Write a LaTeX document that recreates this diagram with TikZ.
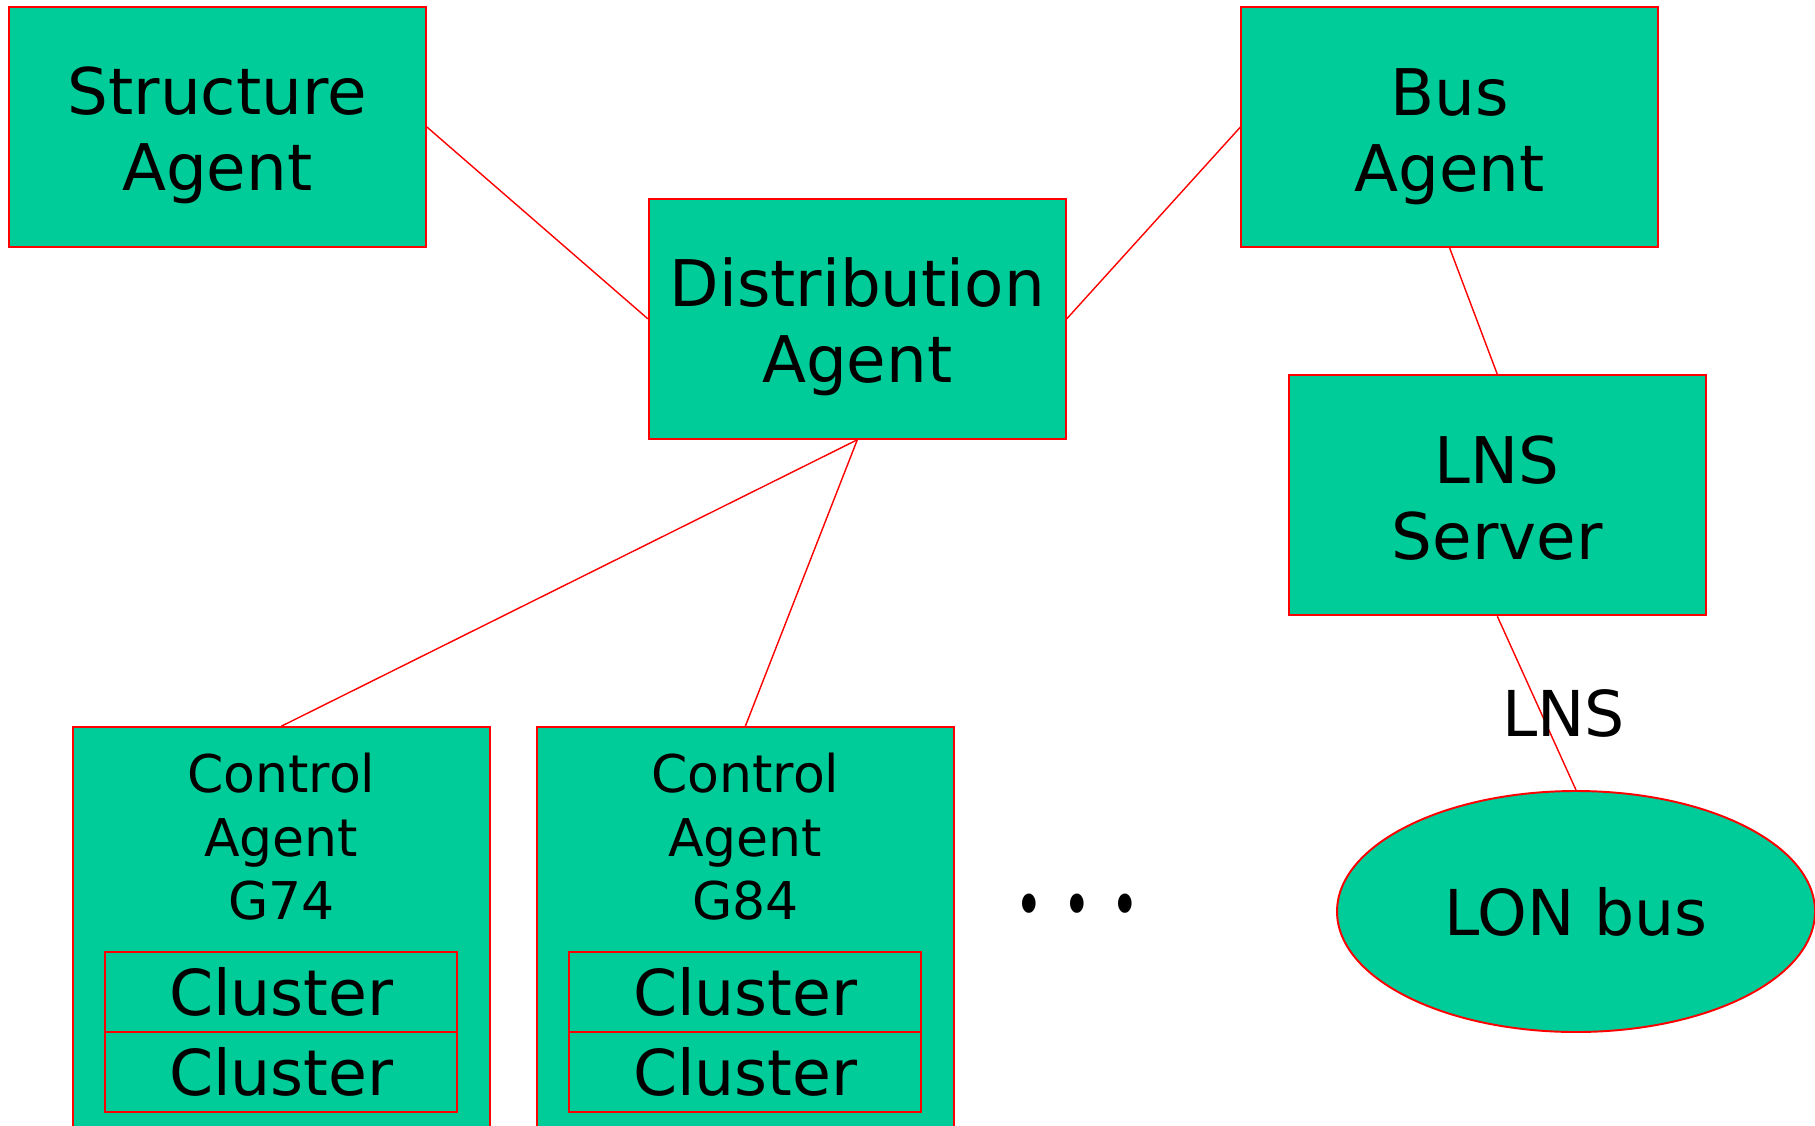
\documentclass[tikz,border=0pt]{standalone}
\usepackage{fontspec}
\setmainfont{DejaVu Sans}
\usepackage{xcolor}
\usepackage{graphicx}
\definecolor{agentgreen}{HTML}{00CC99}
\definecolor{linkred}{HTML}{FF0000}
\usetikzlibrary{shapes.geometric,positioning,fit,backgrounds}
% two centred lines with fixed strut height/depth
\newcommand{\twoline}[2]{\rule{0pt}{7.2mm}#1\\#2\rule[-2mm]{0pt}{2mm}}

\begin{document}
\begin{tikzpicture}[
  x=0.1mm, y=-0.1mm,
  agent/.style={rectangle,draw=linkred,fill=agentgreen,line width=0.55pt,
                minimum width=41.7mm,minimum height=24mm,inner sep=0pt,
                align=center,font=\fontsize{18.3}{21.6}\selectfont},
  ctrltext/.style={inner sep=0pt,align=center,
                   font=\fontsize{14.8}{18.1}\selectfont},
  cluster/.style={rectangle,draw=linkred,fill=agentgreen,line width=0.55pt,
                  minimum width=35.2mm,minimum height=8mm,inner sep=0pt,
                  outer sep=0pt,font=\fontsize{18}{21.6}\selectfont},
  ctrlbox/.style={rectangle,draw=linkred,fill=agentgreen,line width=0.55pt,
                  inner xsep=3.25mm,inner ysep=2.5mm},
  lonbus/.style={ellipse,draw=linkred,fill=agentgreen,line width=0.55pt,
                 minimum width=47.8mm,minimum height=24.1mm,inner sep=0pt,
                 font=\fontsize{18}{21.6}\selectfont},
  link/.style={draw=linkred,line width=0.4pt},
  edgelabel/.style={font=\fontsize{18}{21.6}\selectfont},
]
  \path[use as bounding box,clip] (0,0) rectangle (1815,1125);

  \node[agent] (struct) at (217.2,126.8)  {\twoline{Structure}{Agent}};
  \node[agent] (dist)   at (857.3,318.8)  {\twoline{Distribution}{Agent}};
  \node[agent] (busag)  at (1449.7,127.2) {\twoline{Bus}{Agent}};
  \node[agent] (lns)    at (1497.3,495.3) {\twoline{LNS}{Server}};
  \node[lonbus] (lon)   at (1576,911.5)   {LON bus};

  % control agents with their clusters
  \foreach \g/\x in {74/281.3,84/745.3}{
    \node[ctrltext,anchor=north] (g\g txt) at (\x,752.2) {Control\\Agent\\G\g};
    \node[cluster,below=3.1mm of g\g txt] (g\g c1) {Cluster};
    \node[cluster,below=0pt of g\g c1]    (g\g c2) {Cluster};
    \begin{scope}[on background layer]
      \node[ctrlbox,fit=(g\g txt)(g\g c1)(g\g c2)] (g\g) {};
    \end{scope}
  }

  \node[font=\fontsize{19}{20}\selectfont] (more) at (1077,911)
    {\scalebox{0.7}[1]{•\hspace{2.9mm}•\hspace{2.9mm}•}};

  \draw[link] (struct.east) -- (dist.west);
  \draw[link] (dist.east) -- (busag.west);
  \draw[link] (busag.south) -- (lns.north);
  \draw[link] (dist.south) -- (g74.north);
  \draw[link] (dist.south) -- (g84.north);
  \draw[link] (lns.south) -- (lon.north)
    node[edgelabel,pos=0.56,xshift=2.2mm] {LNS};
\end{tikzpicture}
\end{document}
